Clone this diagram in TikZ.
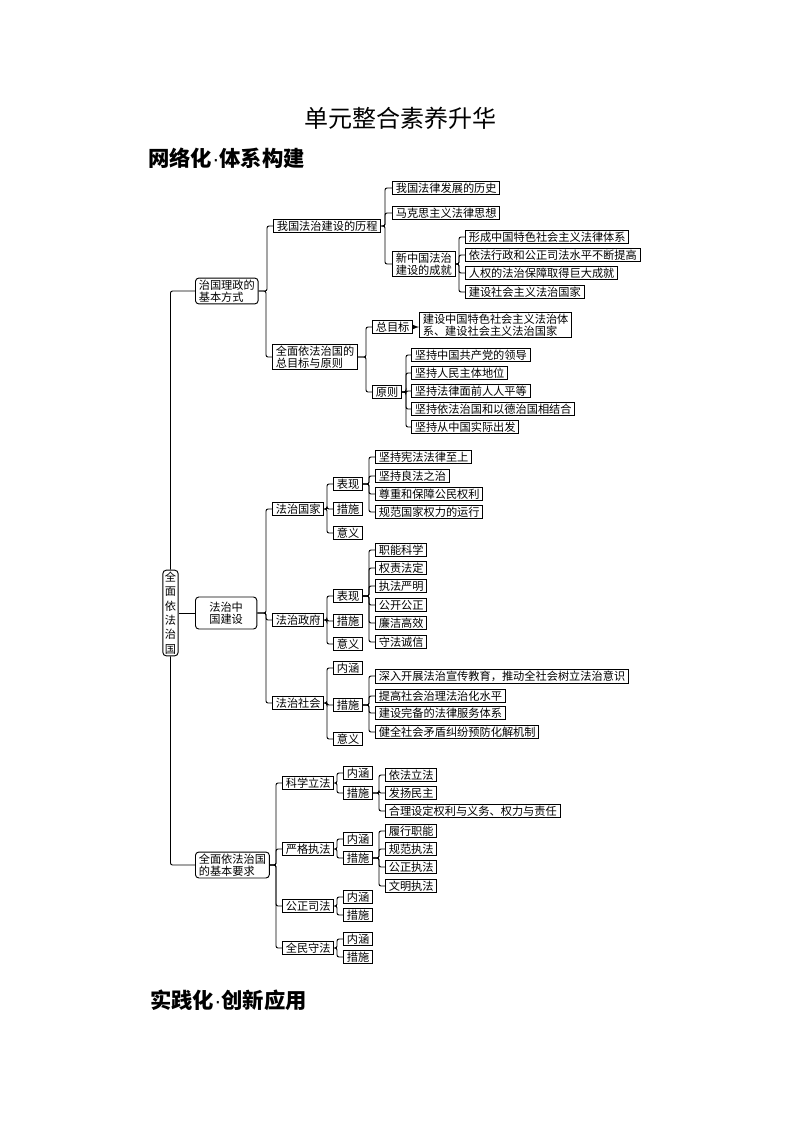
\documentclass[tikz,border=0pt]{standalone}
\usepackage{fontspec}
\setmainfont{Noto Sans CJK SC}
\newfontfamily\latinfont{Liberation Sans}
\newcommand{\boxfont}{\fontsize{8.4}{9.2}\selectfont}
\newcommand{\rootfont}{\fontsize{8.4}{10.8}\selectfont}
\begin{document}
\begin{tikzpicture}[x=0.75pt,y=-0.75pt,
  box/.style={draw,line width=0.7pt,inner xsep=2.5pt,inner ysep=1.2pt,font=\boxfont,anchor=west,align=left},
  rbox/.style={box,rounded corners=2.5pt},
  link/.style={line width=0.7pt,rounded corners=1.5pt}]
\useasboundingbox (0,0) rectangle (800,1132);

% Titles
\node (title) at (400,118) {\fontsize{18}{20}\selectfont 单元整合素养升华};
\node[anchor=west,inner sep=0pt] (net) at (148,158) {\fontsize{16}{18}\selectfont\bfseries 网络化{\latinfont\mdseries ·}体系构建};
\node[anchor=west,inner sep=0pt] (prac) at (150,1000) {\fontsize{16}{18}\selectfont\bfseries 实践化{\latinfont\mdseries ·}创新应用};

% Root
\node[rbox,anchor=center,inner xsep=1.5pt,align=center,font=\rootfont] (root) at (170.5,613) {全\\面\\依\\法\\治\\国};

% Level one
\node[rbox] (zl) at (195,291) {治国理政的\\基本方式};
\node[rbox,align=center,minimum width=46pt,minimum height=24pt] (zg) at (195,613) {法治中\\国建设};
\node[rbox] (yq) at (195,865) {全面依法治国\\的基本要求};

\draw[link] (zl.west) -| (root.north);
\draw[link] (zg.west) -- (zg.west -| root.east);
\draw[link] (yq.west) -| (root.south);

% Branch: basic way of governing
\node[box] (lc) at (273,226) {我国法治建设的历程};
\node[box] (mb) at (272,357) {全面依法治国的\\总目标与原则};
\draw[link] (lc.west) -- ++(-6,0) |- (zl.east);
\draw[link] (mb.west) -- ++(-6,0) |- (zl.east);

% History of rule of law
\node[box] (ls) at (392,188) {我国法律发展的历史};
\node[box] (mk) at (392,213) {马克思主义法律思想};
\node[box] (cj) at (392,264) {新中国法治\\建设的成就};
\draw[link] (ls.west) -- ++(-7,0) |- (lc.east);
\draw[link] (mk.west) -- ++(-7,0) |- (lc.east);
\draw[link] (cj.west) -- ++(-7,0) |- (lc.east);

% Achievements
\node[box] (cj1) at (465,237) {形成中国特色社会主义法律体系};
\node[box] (cj2) at (465,255) {依法行政和公正司法水平不断提高};
\node[box] (cj3) at (465,273) {人权的法治保障取得巨大成就};
\node[box] (cj4) at (465,292) {建设社会主义法治国家};
\draw[link] (cj1.west) -- ++(-6,0) |- (cj.east);
\draw[link] (cj2.west) -- ++(-6,0) |- (cj.east);
\draw[link] (cj3.west) -- ++(-6,0) |- (cj.east);
\draw[link] (cj4.west) -- ++(-6,0) |- (cj.east);

% Goal and principles
\node[box] (zm) at (372,327) {总目标};
\node[box] (yz) at (372,392) {原则};
\draw[link] (zm.west) -- ++(-6,0) |- (mb.east);
\draw[link] (yz.west) -- ++(-6,0) |- (mb.east);
\node[box] (goal) at (419,325) {建设中国特色社会主义法治体\\系、建设社会主义法治国家};
\draw[link,-latex] (zm.east) -- (zm.east -| goal.west);

\node[box] (yz1) at (411,355) {坚持中国共产党的领导};
\node[box] (yz2) at (411,373) {坚持人民主体地位};
\node[box] (yz3) at (411,391) {坚持法律面前人人平等};
\node[box] (yz4) at (411,409) {坚持依法治国和以德治国相结合};
\node[box] (yz5) at (411,427) {坚持从中国实际出发};
\draw[link] (yz1.west) -- ++(-5,0) |- (yz.east);
\draw[link] (yz2.west) -- ++(-5,0) |- (yz.east);
\draw[link] (yz3.west) -- ++(-5,0) |- (yz.east);
\draw[link] (yz4.west) -- ++(-5,0) |- (yz.east);
\draw[link] (yz5.west) -- ++(-5,0) |- (yz.east);

% Branch: building rule of law in China
\node[box] (gj) at (272,509) {法治国家};
\node[box] (zf) at (272,620) {法治政府};
\node[box] (sh) at (272,703) {法治社会};
\draw[link] (gj.west) -- ++(-6,0) |- (zg.east);
\draw[link] (zf.west) -- ++(-6,0) |- (zg.east);
\draw[link] (sh.west) -- ++(-6,0) |- (zg.east);

% Country under rule of law
\node[box] (gjb) at (333,484) {表现};
\node[box] (gjc) at (333,509) {措施};
\node[box] (gjy) at (333,533) {意义};
\draw[link] (gjb.west) -- ++(-6,0) |- (gj.east);
\draw[link] (gjc.west) -- ++(-6,0) |- (gj.east);
\draw[link] (gjy.west) -- ++(-6,0) |- (gj.east);
\node[box] (gjb1) at (375,457) {坚持宪法法律至上};
\node[box] (gjb2) at (375,476) {坚持良法之治};
\node[box] (gjb3) at (375,494) {尊重和保障公民权利};
\node[box] (gjb4) at (375,512) {规范国家权力的运行};
\draw[link] (gjb1.west) -- ++(-6,0) |- (gjb.east);
\draw[link] (gjb2.west) -- ++(-6,0) |- (gjb.east);
\draw[link] (gjb3.west) -- ++(-6,0) |- (gjb.east);
\draw[link] (gjb4.west) -- ++(-6,0) |- (gjb.east);

% Government under rule of law
\node[box] (zfb) at (333,596) {表现};
\node[box] (zfc) at (333,621) {措施};
\node[box] (zfy) at (333,644) {意义};
\draw[link] (zfb.west) -- ++(-6,0) |- (zf.east);
\draw[link] (zfc.west) -- ++(-6,0) |- (zf.east);
\draw[link] (zfy.west) -- ++(-6,0) |- (zf.east);
\node[box] (zfb1) at (375,550) {职能科学};
\node[box] (zfb2) at (375,568) {权责法定};
\node[box] (zfb3) at (375,586) {执法严明};
\node[box] (zfb4) at (375,605) {公开公正};
\node[box] (zfb5) at (375,623) {廉洁高效};
\node[box] (zfb6) at (375,642) {守法诚信};
\draw[link] (zfb1.west) -- ++(-6,0) |- (zfb.east);
\draw[link] (zfb2.west) -- ++(-6,0) |- (zfb.east);
\draw[link] (zfb3.west) -- ++(-6,0) |- (zfb.east);
\draw[link] (zfb4.west) -- ++(-6,0) |- (zfb.east);
\draw[link] (zfb5.west) -- ++(-6,0) |- (zfb.east);
\draw[link] (zfb6.west) -- ++(-6,0) |- (zfb.east);

% Society under rule of law
\node[box] (shn) at (333,668) {内涵};
\node[box] (shc) at (333,705) {措施};
\node[box] (shy) at (333,739) {意义};
\draw[link] (shn.west) -- ++(-6,0) |- (sh.east);
\draw[link] (shc.west) -- ++(-6,0) |- (sh.east);
\draw[link] (shy.west) -- ++(-6,0) |- (sh.east);
\node[box] (shc1) at (375,676) {深入开展法治宣传教育，推动全社会树立法治意识};
\node[box] (shc2) at (375,696) {提高社会治理法治化水平};
\node[box] (shc3) at (375,713) {建设完备的法律服务体系};
\node[box] (shc4) at (375,732) {健全社会矛盾纠纷预防化解机制};
\draw[link] (shc1.west) -- ++(-6,0) |- (shc.east);
\draw[link] (shc2.west) -- ++(-6,0) |- (shc.east);
\draw[link] (shc3.west) -- ++(-6,0) |- (shc.east);
\draw[link] (shc4.west) -- ++(-6,0) |- (shc.east);

% Branch: basic requirements
\node[box] (kx) at (282,783) {科学立法};
\node[box] (yg) at (282,849) {严格执法};
\node[box] (gz) at (282,906) {公正司法};
\node[box] (qm) at (282,948) {全民守法};
\draw[link] (kx.west) -- ++(-6,0) |- (yq.east);
\draw[link] (yg.west) -- ++(-6,0) |- (yq.east);
\draw[link] (gz.west) -- ++(-6,0) |- (yq.east);
\draw[link] (qm.west) -- ++(-6,0) |- (yq.east);

% Scientific legislation
\node[box] (kxn) at (343,773) {内涵};
\node[box] (kxc) at (343,793) {措施};
\draw[link] (kxn.west) -- ++(-6,0) |- (kx.east);
\draw[link] (kxc.west) -- ++(-6,0) |- (kx.east);
\node[box] (kxc1) at (385,775) {依法立法};
\node[box] (kxc2) at (385,793) {发扬民主};
\node[box] (kxc3) at (385,811) {合理设定权利与义务、权力与责任};
\draw[link] (kxc1.west) -- ++(-6,0) |- (kxc.east);
\draw[link] (kxc2.west) -- ++(-6,0) |- (kxc.east);
\draw[link] (kxc3.west) -- ++(-6,0) |- (kxc.east);

% Strict enforcement
\node[box] (ygn) at (343,839) {内涵};
\node[box] (ygc) at (343,858) {措施};
\draw[link] (ygn.west) -- ++(-6,0) |- (yg.east);
\draw[link] (ygc.west) -- ++(-6,0) |- (yg.east);
\node[box] (ygc1) at (385,831) {履行职能};
\node[box] (ygc2) at (385,849) {规范执法};
\node[box] (ygc3) at (385,867) {公正执法};
\node[box] (ygc4) at (385,886) {文明执法};
\draw[link] (ygc1.west) -- ++(-6,0) |- (ygc.east);
\draw[link] (ygc2.west) -- ++(-6,0) |- (ygc.east);
\draw[link] (ygc3.west) -- ++(-6,0) |- (ygc.east);
\draw[link] (ygc4.west) -- ++(-6,0) |- (ygc.east);

% Fair justice
\node[box] (gzn) at (343,897) {内涵};
\node[box] (gzc) at (343,915) {措施};
\draw[link] (gzn.west) -- ++(-6,0) |- (gz.east);
\draw[link] (gzc.west) -- ++(-6,0) |- (gz.east);

% Law-abiding by all
\node[box] (qmn) at (343,939) {内涵};
\node[box] (qmc) at (343,957) {措施};
\draw[link] (qmn.west) -- ++(-6,0) |- (qm.east);
\draw[link] (qmc.west) -- ++(-6,0) |- (qm.east);
\end{tikzpicture}
\end{document}
